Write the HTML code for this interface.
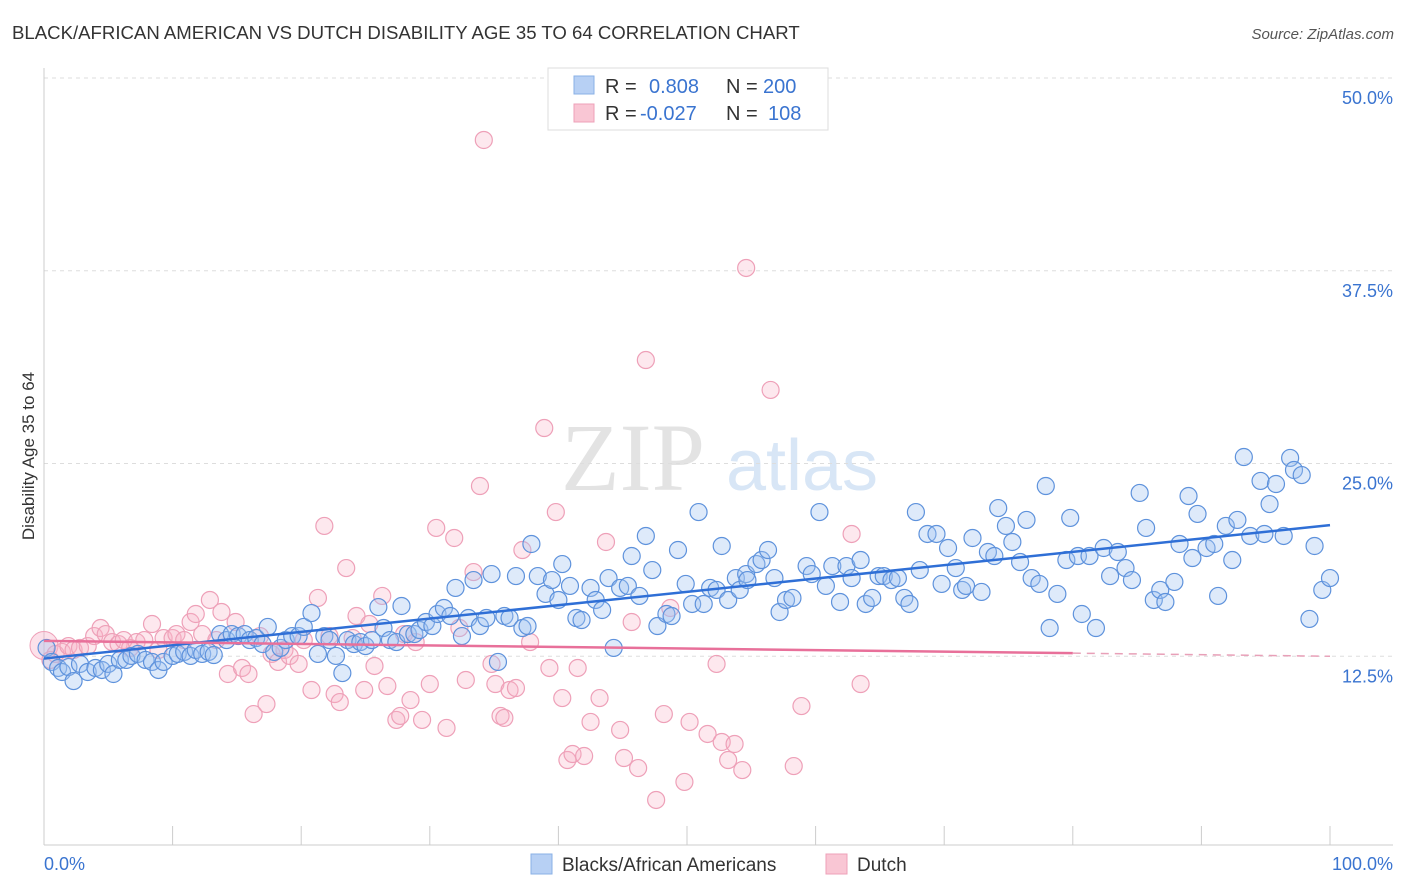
<!DOCTYPE html>
<html><head><meta charset="utf-8"><style>
body{margin:0;background:#fff;font-family:"Liberation Sans",sans-serif}
svg{display:block}
</style></head><body>
<svg id="c" width="1406" height="892">
<text x="12" y="39" font-size="18.6" fill="#333">BLACK/AFRICAN AMERICAN VS DUTCH DISABILITY AGE 35 TO 64 CORRELATION CHART</text>
<text x="1394" y="39" font-size="15" fill="#555" font-style="italic" text-anchor="end">Source: ZipAtlas.com</text>
<text x="34" y="456" font-size="17" fill="#333" text-anchor="middle" transform="rotate(-90 34 456)">Disability Age 35 to 64</text>
<g><text x="633" y="490" font-size="96" fill="#e3e3e3" font-family="Liberation Serif,serif" text-anchor="middle">ZIP</text><text x="802" y="490" font-size="72" fill="#d8e6f6" text-anchor="middle">atlas</text></g>
<g id="grid"></g><g id="axes"></g><g id="pink"></g><g id="blue"></g><g id="lines"></g>
<g>
<rect x="548" y="68" width="280" height="62" fill="#fff" stroke="#ddd"/>
<rect x="574" y="76" width="20" height="18" fill="#b7d0f4" stroke="#8ab0e6"/>
<text x="605" y="93" font-size="20" fill="#333">R =</text><text x="649" y="93" font-size="20" fill="#3a74d0">0.808</text>
<text x="726" y="93" font-size="20" fill="#333">N =</text><text x="763" y="93" font-size="20" fill="#3a74d0">200</text>
<rect x="574" y="104" width="20" height="18" fill="#f9c6d4" stroke="#eea0b8"/>
<text x="605" y="120" font-size="20" fill="#333">R =</text><text x="640" y="120" font-size="20" fill="#3a74d0">-0.027</text>
<text x="726" y="120" font-size="20" fill="#333">N =</text><text x="768" y="120" font-size="20" fill="#3a74d0">108</text>
</g>
<g>
<rect x="531" y="854" width="21" height="20" fill="#b7d0f4" stroke="#8ab0e6"/><text x="562" y="871" font-size="19" fill="#333">Blacks/African Americans</text>
<rect x="826" y="854" width="21" height="20" fill="#f9c6d4" stroke="#eea0b8"/><text x="857" y="871" font-size="19" fill="#333">Dutch</text>
</g>
</svg>
<script>
const yTicks=[12.5,25,37.5,50];
const yTickLabels=["12.5%","25.0%","37.5%","50.0%"];
const xTickLabels=["0.0%","100.0%"];
const bluePx=[[47,648],[52,662],[58,668],[62,672],[68,667],[74,681],[80,664],[88,672],[95,668],[102,670],[108,664],[114,674],[120,660],[126,660],[132,656],[138,654],[146,660],[152,662],[158,670],[164,662],[172,656],[178,654],[184,652],[190,656],[196,650],[202,654],[208,652],[214,655],[220,634],[226,640],[232,634],[238,636],[244,634],[250,640],[256,638],[262,644],[268,627],[274,652],[280,648],[286,640],[292,636],[298,636],[304,627],[312,613],[318,654],[324,636],[330,640],[336,656],[342,673],[348,640],[354,644],[360,642],[366,646],[372,640],[378,607],[384,628],[390,640],[396,642],[402,606],[408,634],[414,634],[420,630],[426,622],[432,626],[438,614],[444,608],[450,616],[456,588],[462,636],[468,618],[474,580],[480,626],[486,618],[492,574],[498,662],[504,616],[510,618],[516,576],[522,628],[528,626],[532,544],[538,576],[546,594],[552,580],[558,600],[562,564],[570,586],[576,618],[582,620],[590,588],[596,600],[602,610],[608,578],[614,648],[620,588],[628,586],[632,556],[640,596],[646,536],[652,570],[658,626],[666,614],[672,616],[678,550],[686,584],[692,604],[698,512],[704,604],[710,588],[716,590],[722,546],[728,600],[736,578],[740,590],[746,574],[748,580],[756,564],[762,560],[768,550],[774,578],[780,612],[786,600],[792,598],[806,566],[812,574],[820,512],[826,586],[832,566],[840,602],[846,566],[852,578],[860,560],[866,604],[872,598],[878,576],[884,576],[892,580],[898,578],[904,598],[910,604],[916,512],[920,570],[928,534],[936,534],[942,584],[948,548],[956,568],[962,590],[966,586],[972,538],[982,592],[988,552],[994,556],[998,508],[1006,526],[1012,542],[1020,562],[1026,520],[1032,578],[1040,584],[1046,486],[1050,628],[1058,594],[1066,560],[1070,518],[1078,556],[1082,614],[1090,556],[1096,628],[1104,548],[1110,576],[1118,552],[1126,568],[1132,580],[1140,493],[1146,528],[1154,600],[1160,590],[1166,602],[1174,582],[1180,544],[1188,496],[1192,558],[1198,514],[1206,548],[1214,544],[1218,596],[1226,526],[1232,560],[1238,520],[1244,457],[1250,536],[1260,481],[1264,534],[1270,504],[1276,484],[1284,536],[1290,458],[1294,470],[1302,475],[1310,619],[1314,546],[1322,590],[1330,578]];
const pinkPx=[[50,660],[56,654],[62,652],[68,646],[74,650],[80,648],[88,646],[94,636],[100,628],[106,634],[112,642],[118,644],[124,640],[130,648],[136,642],[144,640],[152,624],[158,650],[164,638],[172,638],[176,634],[184,640],[190,622],[196,614],[202,634],[210,600],[216,640],[222,612],[228,674],[236,622],[242,668],[248,674],[254,714],[260,636],[266,704],[272,654],[278,662],[284,650],[290,656],[298,664],[304,640],[312,690],[318,598],[324,526],[330,636],[334,694],[340,702],[346,568],[352,638],[356,616],[364,690],[370,624],[374,666],[382,596],[388,686],[396,720],[400,716],[404,634],[410,700],[416,642],[422,720],[430,684],[436,528],[446,728],[454,538],[460,628],[466,680],[474,572],[480,486],[484,140],[492,664],[496,684],[500,716],[504,718],[510,690],[516,688],[522,550],[530,642],[544,428],[550,668],[556,512],[562,698],[568,760],[572,754],[578,668],[584,756],[590,722],[600,698],[606,542],[620,730],[624,758],[632,622],[638,768],[646,360],[656,800],[664,714],[670,608],[684,782],[690,722],[708,734],[716,664],[722,742],[728,760],[734,744],[742,770],[746,268],[770,390],[794,766],[802,706],[852,534],[860,684]];
const blueX=bluePx.map(p=>+((p[0]-44)/12.86).toFixed(1));
const blueY=bluePx.map(p=>+((849-p[1])/15.42).toFixed(2));
const pinkX=pinkPx.map(p=>+((p[0]-44)/12.86).toFixed(1));
const pinkY=pinkPx.map(p=>+((849-p[1])/15.42).toFixed(2));
const X0=44,X1=1330,Y0=849,YS=15.42;
const sx=v=>X0+v*(X1-X0)/100, sy=v=>Y0-v*YS;
const NS='http://www.w3.org/2000/svg';
function mk(tag,attrs,parent){const e=document.createElementNS(NS,tag);for(const k in attrs)e.setAttribute(k,attrs[k]);document.getElementById(parent).appendChild(e);return e;}
yTicks.forEach((t,i)=>{
 const g=mk('line',{x1:44,x2:1393,y1:sy(t),y2:sy(t),stroke:'#ddd','stroke-dasharray':'4,4'},'grid');
 
 
 const tx=mk('text',{x:1393,y:sy(t)+26,'font-size':18,fill:'#3a74d0','text-anchor':'end'},'grid');tx.textContent=yTickLabels[i];
 
 
});
mk('line',{x1:44,x2:1393,y1:845,y2:845,stroke:'#ccc'},'axes');
mk('line',{x1:44,x2:44,y1:68,y2:845,stroke:'#ccc'},'axes');
for(let i=0;i<=10;i++){const t=mk('line',{x1:sx(i*10),x2:sx(i*10),y1:826,y2:845,stroke:'#ccc'},'axes');}
const xl0=mk('text',{x:44,y:870,'font-size':18,fill:'#3a74d0'},'axes');xl0.textContent=xTickLabels[0];


const xl1=mk('text',{x:1393,y:870,'font-size':18,fill:'#3a74d0','text-anchor':'end'},'axes');xl1.textContent=xTickLabels[1];


const big=mk('circle',{cx:sx(0),cy:sy(13.2),r:14,fill:'rgba(245,170,195,0.35)',stroke:'#eea0b8'},'pink');


pinkX.forEach((x,i)=>{const c=mk('circle',{cx:sx(x),cy:sy(pinkY[i]),r:8.5,fill:'rgba(248,180,200,0.3)',stroke:'#eea0b8','stroke-width':1.2},'pink');
 
 });
blueX.forEach((x,i)=>{const c=mk('circle',{cx:sx(x),cy:sy(blueY[i]),r:8.5,fill:'rgba(160,195,240,0.35)',stroke:'#5e92dc','stroke-width':1.2},'blue');
 
 });
const bl=mk('line',{x1:sx(0),y1:sy(12.35),x2:sx(100),y2:sy(21),stroke:'#2f6fd6','stroke-width':2.5},'lines');


const pl=mk('line',{x1:sx(0),y1:sy(13.5),x2:sx(80),y2:sy(12.7),stroke:'#e8709a','stroke-width':2.5},'lines');


const pd=mk('line',{x1:sx(80),y1:sy(12.7),x2:sx(100),y2:sy(12.5),stroke:'#e8a0b8','stroke-width':1.5,'stroke-dasharray':'8,6'},'lines');


</script>
</body></html>
